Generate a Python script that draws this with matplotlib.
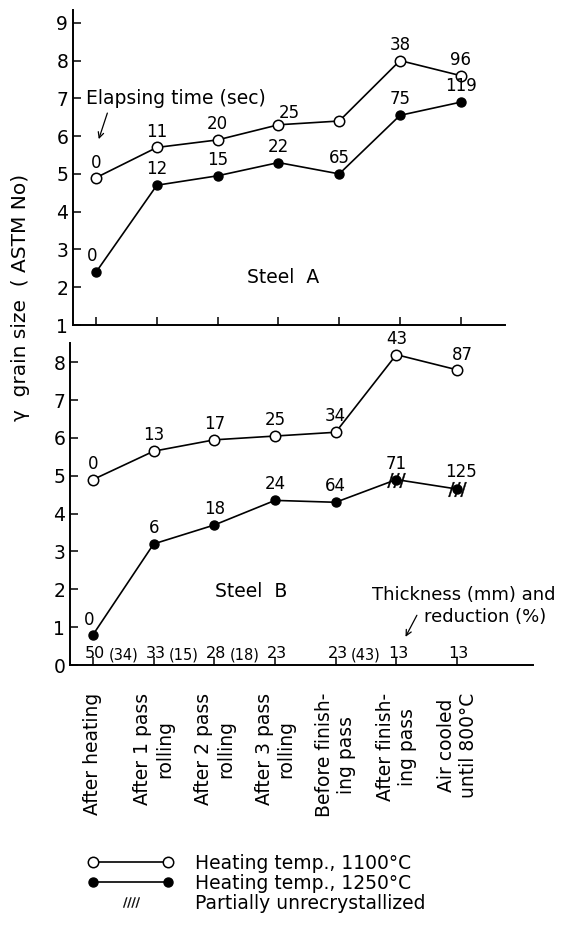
# grain size vs rolling stage, steels A and B
import numpy as np
import matplotlib.pyplot as plt
from matplotlib.lines import Line2D
from matplotlib.legend_handler import HandlerLine2D

plt.rcParams['font.family'] = ['DejaVu Sans']

# data
stages = ["After heating", "After 1 pass\nrolling", "After 2 pass\nrolling",
          "After 3 pass\nrolling", "Before finish-\ning pass",
          "After finish-\ning pass", "Air cooled\nuntil 800°C"]
a_1100 = [4.9, 5.7, 5.9, 6.3, 6.4, 8.0, 7.6]
a_1250 = [2.4, 4.7, 4.95, 5.3, 5.0, 6.55, 6.9]
b_1100 = [4.9, 5.65, 5.95, 6.05, 6.15, 8.2, 7.8]
b_1250 = [0.8, 3.2, 3.7, 4.35, 4.3, 4.9, 4.65]
a_1100_time = ["0", "11", "20", "25", "", "38", "96"]
a_1250_time = ["0", "12", "15", "22", "65", "75", "119"]
b_1100_time = ["0", "13", "17", "25", "34", "43", "87"]
b_1250_time = ["0", "6", "18", "24", "64", "71", "125"]
b_1250_partial = [False, False, False, False, False, True, True]
thickness = ["50", "33", "28", "23", "23", "13", "13"]
reduction = ["(34)", "(15)", "(18)", "", "(43)", ""]

x = np.arange(len(stages))

fig = plt.figure(figsize=(5.8, 9.38), dpi=100)
ax1 = fig.add_axes([0.126, 0.6535, 0.745, 0.3355])
ax2 = fig.add_axes([0.1207, 0.291, 0.798, 0.343])

open_style = dict(color='k', lw=1.2, marker='o', ms=7.5, mfc='white', mec='k', mew=1.1)
fill_style = dict(color='k', lw=1.2, marker='o', ms=6.5, mfc='k', mec='k')


def label_points(ax, vals, times, offsets=None):
    for i, (v, t) in enumerate(zip(vals, times)):
        if not t:
            continue
        dx, dy = (0, 5)
        if offsets and i in offsets:
            dx, dy = offsets[i]
        ax.annotate(t, (x[i], v), xytext=(dx, dy), textcoords='offset points',
                    ha='center', va='bottom', fontsize=12)


# --- Steel A ---
ax1.plot(x, a_1100, **open_style)
ax1.plot(x, a_1250, **fill_style)
label_points(ax1, a_1100, a_1100_time, {0: (0, 4), 3: (8, 2)})
label_points(ax1, a_1250, a_1250_time, {0: (-3, 5)})
ax1.set_xlim(-0.378, 6.73)
ax1.set_ylim(1, 9.33)
ax1.set_yticks(range(1, 10))
ax1.set_xticks(x)
ax1.set_xticklabels([])
ax1.text(3.07, 2.27, "Steel  A", ha='center', va='center', fontsize=13.5)
ax1.text(-0.16, 7.0, "Elapsing time (sec)", ha='left', va='center', fontsize=13.5)
ax1.annotate("", xy=(0.03, 5.85), xytext=(0.2, 6.68),
             arrowprops=dict(arrowstyle='->', color='k', lw=0.9))

# --- Steel B ---
ax2.plot(x, b_1100, **open_style)
ax2.plot(x, b_1250, **fill_style)
part = np.array(b_1250_partial)
ax2.plot(x[part], np.array(b_1250)[part], ls='none', marker='$///$', ms=13,
         color='k', mew=0.3)
label_points(ax2, b_1100, b_1100_time, {6: (4, 4)})
label_points(ax2, b_1250, b_1250_time, {0: (-3, 4), 6: (3, 6)})
ax2.set_xlim(-0.379, 7.25)
ax2.set_ylim(0, 8.5)
ax2.set_yticks(range(0, 9))
ax2.set_xticks(x)
ax2.set_xticklabels(stages, rotation=90, ha='center', va='top',
                    multialignment='center', fontsize=12)
ax2.text(2.6, 1.93, "Steel  B", ha='center', va='center', fontsize=13.5)

for i, t in enumerate(thickness):
    ax2.text(x[i] + 0.03, 0.1, t, ha='center', va='bottom', fontsize=11.5)
for i, r in enumerate(reduction):
    if r:
        ax2.text(x[i] + 0.5, 0.06, r, ha='center', va='bottom', fontsize=10.5)

ax2.text(4.6, 1.85, "Thickness (mm) and", ha='left', va='center', fontsize=13)
ax2.text(5.45, 1.27, "reduction (%)", ha='left', va='center', fontsize=13)
ax2.annotate("", xy=(5.13, 0.68), xytext=(5.36, 1.38),
             arrowprops=dict(arrowstyle='->', color='k', lw=0.9))

for ax in (ax1, ax2):
    ax.spines['top'].set_visible(False)
    ax.spines['right'].set_visible(False)
    ax.spines['left'].set_linewidth(1.4)
    ax.spines['bottom'].set_linewidth(1.4)
    ax.tick_params(direction='in', length=6, width=1.1, labelsize=13.5)
ax2.tick_params(axis='x', pad=20)

fig.text(0.035, 0.683, "γ  grain size  ( ASTM No)", rotation=90,
         ha='center', va='center', fontsize=14.5)

# legend
h_open = Line2D([], [], **open_style)
h_fill = Line2D([], [], **fill_style)
h_part = Line2D([], [], ls='none', marker='$////$', ms=12, color='k', mew=0.2)
fig.legend([h_open, h_fill, h_part],
           ["Heating temp., 1100°C", "Heating temp., 1250°C",
            "Partially unrecrystallized"],
           loc='upper left', bbox_to_anchor=(0.151, 0.0895), frameon=False,
           fontsize=13.5, numpoints=2, handlelength=4.6, handletextpad=1.15,
           labelspacing=0.05, borderpad=0, borderaxespad=0,
           handler_map={h_part: HandlerLine2D(numpoints=1)})

fig.savefig("out.png", dpi=100)
